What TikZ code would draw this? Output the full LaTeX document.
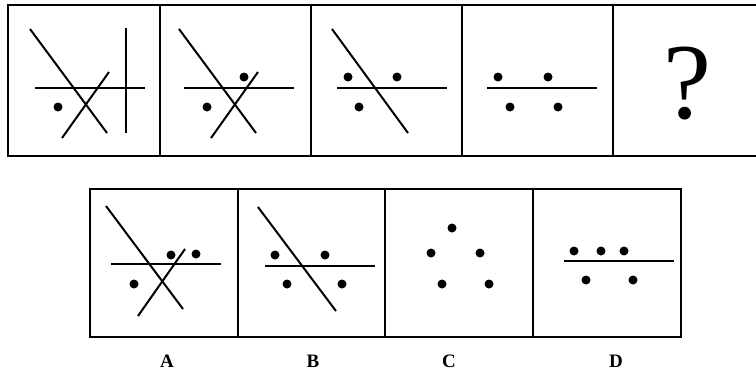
\documentclass[tikz,border=0pt]{standalone}
\usepackage{fontspec}
\setmainfont{Liberation Serif}
\usepackage{tikz}
\tikzset{
  frame/.style={draw, line width=2.2pt},
  stroke/.style={line width=2pt},
  dot/.style={circle, fill, inner sep=0pt, minimum size=9pt},
  optlabel/.style={font=\bfseries\fontsize{19}{19}\selectfont},
}

\begin{document}
\begin{tikzpicture}[x=1pt, y=-1pt]
  \useasboundingbox (0,0) rectangle (756,376);
  % question row
  \draw[frame] (758,5) -- (8,5) -- (8,156) -- (758,156);
  \foreach \x in {160,311,462,613} \draw[frame] (\x,5) -- (\x,156);
  % panel 1
  \draw[stroke] (30,29) -- (107,133);
  \draw[stroke] (109,72) -- (62,138);
  \draw[stroke] (35,88) -- (145,88);
  \draw[stroke] (126,28) -- (126,133);
  \node[dot] (p1a) at (58,107) {};
  % panel 2
  \draw[stroke] (179,29) -- (256,133);
  \draw[stroke] (258,72) -- (211,138);
  \draw[stroke] (184,88) -- (294,88);
  \node[dot] (p2a) at (244,77) {};
  \node[dot] (p2b) at (207,107) {};
  % panel 3
  \draw[stroke] (332,29) -- (408,133);
  \draw[stroke] (337,88) -- (447,88);
  \node[dot] (p3a) at (348,77) {};
  \node[dot] (p3b) at (397,77) {};
  \node[dot] (p3c) at (359,107) {};
  % panel 4
  \draw[stroke] (487,88) -- (597,88);
  \node[dot] (p4a) at (498,77) {};
  \node[dot] (p4b) at (548,77) {};
  \node[dot] (p4c) at (510,107) {};
  \node[dot] (p4d) at (558,107) {};
  % panel 5
  \node[font=\fontsize{108}{108}\selectfont, inner sep=0pt] (qm) at (687,84) {?};

  % answer row
  \draw[frame] (90,189) rectangle (681,337);
  \foreach \x in {238,385,533} \draw[frame] (\x,189) -- (\x,337);
  % option A
  \draw[stroke] (106,206) -- (183,309);
  \draw[stroke] (185,249) -- (138,316);
  \draw[stroke] (111,264) -- (221,264);
  \node[dot] (a1) at (171,255) {};
  \node[dot] (a2) at (196,254) {};
  \node[dot] (a3) at (134,284) {};
  % option B
  \draw[stroke] (258,207) -- (336,311);
  \draw[stroke] (265,266) -- (375,266);
  \node[dot] (b1) at (275,255) {};
  \node[dot] (b2) at (325,255) {};
  \node[dot] (b3) at (287,284) {};
  \node[dot] (b4) at (342,284) {};
  % option C
  \node[dot] (c1) at (452,228) {};
  \node[dot] (c2) at (431,253) {};
  \node[dot] (c3) at (480,253) {};
  \node[dot] (c4) at (442,284) {};
  \node[dot] (c5) at (489,284) {};
  % option D
  \draw[stroke] (564,261) -- (674,261);
  \node[dot] (d1) at (574,251) {};
  \node[dot] (d2) at (601,251) {};
  \node[dot] (d3) at (624,251) {};
  \node[dot] (d4) at (586,280) {};
  \node[dot] (d5) at (633,280) {};

  % labels
  \node[optlabel] (la) at (167,361) {A};
  \node[optlabel] (lb) at (313,361) {B};
  \node[optlabel] (lc) at (449,361) {C};
  \node[optlabel] (ld) at (616,361) {D};
\end{tikzpicture}
\end{document}
